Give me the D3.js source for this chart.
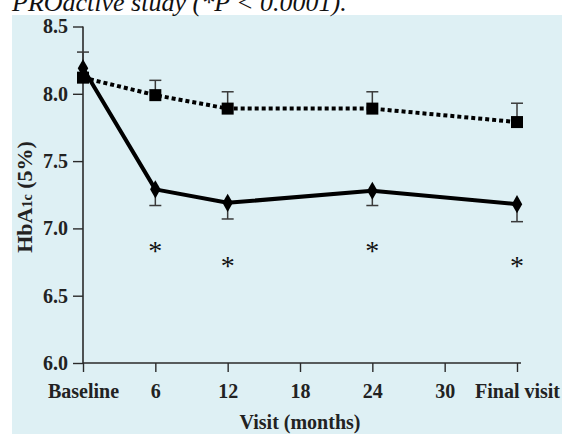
<!DOCTYPE html>
<html>
<head>
<meta charset="utf-8">
<script src="https://cdn.jsdelivr.net/npm/d3@7"></script>
<style>
  html, body { margin: 0; padding: 0; background: #ffffff; }
  svg { display: block; }
  text { font-family: "Liberation Serif", "Times New Roman", serif; }
</style>
</head>
<body>
<svg id="chart" width="562" height="434"></svg>
<script>
// ---- data ----
const visits = [0, 6, 12, 24, 36];                 // months (Final visit drawn at 36)
const xTickValues = [0, 6, 12, 18, 24, 30, 36];
const xTickLabels = ["Baseline", "6", "12", "18", "24", "30", "Final visit"];
const yTickValues = [6.0, 6.5, 7.0, 7.5, 8.0, 8.5];
const placebo = [8.12, 7.99, 7.89, 7.89, 7.79];
const placeboErr = [null, 8.10, 8.015, 8.015, 7.93];   // upper error bar ends
const pioglitazone = [8.19, 7.29, 7.19, 7.28, 7.18];
const pioErr = [8.31, 7.17, 7.07, 7.17, 7.05];         // error bar ends
const starVisits = [6, 12, 24, 36];
const starLevels = [6.89, 6.78, 6.89, 6.78];
const titleText = "PROactive study (*P < 0.0001).";

// ---- layout ----
const svg = d3.select("#chart");
const x = d3.scaleLinear().domain([0, 36]).range([83, 517]);
const y = d3.scaleLinear().domain([6.0, 8.5]).range([363, 26.5]);

svg.append("rect").attr("x", 12).attr("y", 15).attr("width", 550).attr("height", 419)
  .attr("fill", "#def0f4");

svg.append("text").attr("x", 12).attr("y", 11)
  .attr("font-size", 26).attr("font-style", "italic").attr("fill", "#111")
  .text(titleText);

const axisColor = "#2a2a2a";

// y axis
const yAxis = svg.append("g").attr("transform", "translate(83,0)")
  .call(d3.axisLeft(y).tickValues(yTickValues).tickFormat(d3.format(".1f")).tickSize(10).tickPadding(5));
yAxis.select(".domain").attr("stroke", axisColor).attr("stroke-width", 1.6).attr("d", `M0,${y(8.5)}V${y(6.0)}`);
yAxis.selectAll(".tick line").attr("stroke", axisColor).attr("stroke-width", 1.4);
yAxis.selectAll(".tick text").attr("font-size", 20).attr("font-weight", "bold")
  .attr("font-family", "Liberation Serif, serif").attr("fill", "#222");

// x axis
const xAxis = svg.append("g").attr("transform", `translate(0,${y(6.0)})`)
  .call(d3.axisBottom(x).tickValues(xTickValues).tickFormat((d, i) => xTickLabels[i]).tickSize(9).tickPadding(12));
xAxis.select(".domain").attr("stroke", axisColor).attr("stroke-width", 1.6).attr("d", `M${x(0)},0H521`);
xAxis.selectAll(".tick line").attr("stroke", axisColor).attr("stroke-width", 1.4);
xAxis.selectAll(".tick text").attr("font-size", 20).attr("font-weight", "bold")
  .attr("font-family", "Liberation Serif, serif").attr("fill", "#222");

// axis titles
svg.append("text").attr("x", x(18)).attr("y", 429).attr("text-anchor", "middle")
  .attr("font-size", 20).attr("font-weight", "bold").attr("fill", "#222").text("Visit (months)");

const yt = svg.append("text").attr("transform", `translate(32,${197}) rotate(-90)`)
  .attr("text-anchor", "middle").attr("font-size", 22).attr("font-weight", "bold").attr("fill", "#222");
yt.append("tspan").text("HbA");
yt.append("tspan").attr("font-size", 14).text("1c");
yt.append("tspan").text(" (5%)");

// error bars
function errBars(vals, errs, cls) {
  const g = svg.append("g").attr("class", cls);
  vals.forEach((v, i) => {
    if (errs[i] == null) return;
    const cx = x(visits[i]);
    g.append("line").attr("x1", cx).attr("x2", cx).attr("y1", y(v)).attr("y2", y(errs[i]))
      .attr("stroke", "#3a3a3a").attr("stroke-width", 1.5);
    g.append("line").attr("x1", cx - 6).attr("x2", cx + 6).attr("y1", y(errs[i])).attr("y2", y(errs[i]))
      .attr("stroke", "#3a3a3a").attr("stroke-width", 1.5);
  });
}
errBars(placebo, placeboErr, "err-placebo");
errBars(pioglitazone, pioErr, "err-pio");

const line = d3.line().x((d, i) => x(visits[i])).y(d => y(d));

svg.append("path").datum(placebo).attr("d", line).attr("fill", "none")
  .attr("stroke", "#000").attr("stroke-width", 4).attr("stroke-dasharray", "4,3");
svg.append("path").datum(pioglitazone).attr("d", line).attr("fill", "none")
  .attr("stroke", "#000").attr("stroke-width", 4).attr("stroke-linejoin", "round");

// markers
svg.append("g").selectAll("rect").data(placebo).join("rect")
  .attr("x", (d, i) => x(visits[i]) - 6).attr("y", d => y(d) - 6)
  .attr("width", 12).attr("height", 12).attr("fill", "#000");
svg.append("g").selectAll("path").data(pioglitazone).join("path")
  .attr("transform", (d, i) => `translate(${x(visits[i])},${y(d)})`)
  .attr("d", d3.symbol().type(d3.symbolDiamond).size(95)).attr("fill", "#000");

// significance stars
svg.append("g").selectAll("text").data(starLevels).join("text")
  .attr("x", (d, i) => x(starVisits[i])).attr("y", d => y(d))
  .attr("dy", "0.6em").attr("text-anchor", "middle").attr("font-size", 28).attr("fill", "#111")
  .text("*");
</script>
</body>
</html>
